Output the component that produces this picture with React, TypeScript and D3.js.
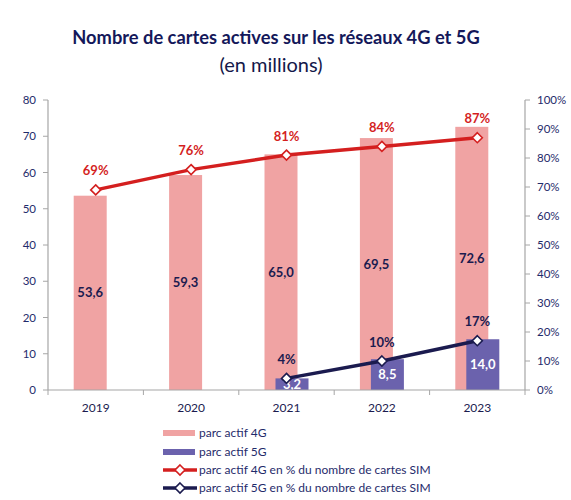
import * as d3 from 'd3';

// Chart data
const years = ['2019', '2020', '2021', '2022', '2023'];
const parc4G = [53.6, 59.3, 65.0, 69.5, 72.6];
const parc5G: (number | null)[] = [null, null, 3.2, 8.5, 14.0];
const pct4G = [69, 76, 81, 84, 87];
const pct5G: (number | null)[] = [null, null, 4, 10, 17];
const leftTicks = [0, 10, 20, 30, 40, 50, 60, 70, 80];
const rightTicks = [0, 10, 20, 30, 40, 50, 60, 70, 80, 90, 100];

const W = 571;
const H = 500;
const FONT = 'Lato, "Noto Sans", sans-serif';
const NAVY = '#1f2b6b';
const PINK = '#f0a3a3';
const BLUE = '#6b62ad';
const RED = '#d41f1f';
const DARK = '#1b1b4f';

const fmt = (v: number) => v.toFixed(1).replace('.', ',');

function Diamond({ x, y, stroke }: { x: number; y: number; stroke: string }) {
  const r = 5;
  return (
    <path
      d={`M${x},${y - r}L${x + r},${y}L${x},${y + r}L${x - r},${y}Z`}
      fill="#fff"
      stroke={stroke}
      strokeWidth={1.6}
    />
  );
}

export default function App() {
  const left = 48;
  const right = 525;
  const top = 100;
  const bottom = 390;

  const x = d3.scaleBand().domain(years).range([left, right]).padding(0);
  const yL = d3.scaleLinear().domain([0, 80]).range([bottom, top]);
  const yR = d3.scaleLinear().domain([0, 100]).range([bottom, top]);
  const barW = 33;
  const off = 5.5;
  const cx = (yr: string) => (x(yr) || 0) + x.bandwidth() / 2;

  const line4G = d3
    .line<number>()
    .x((_, i) => cx(years[i]))
    .y((d) => yR(d));
  const pts5G = years
    .map((yr, i) => ({ yr, v: pct5G[i] }))
    .filter((d) => d.v != null) as { yr: string; v: number }[];
  const line5G = d3
    .line<{ yr: string; v: number }>()
    .x((d) => cx(d.yr))
    .y((d) => yR(d.v));

  return (
    <svg
      width={W}
      height={H}
      style={{ position: 'absolute', left: 0, top: 0, background: '#fff' }}
      fontFamily={FONT}
    >
      <defs>
        <clipPath id="plot">
          <rect x={left} y={top - 40} width={right - left} height={bottom - top + 40} />
        </clipPath>
      </defs>

      {/* Titles */}
      <text x={276} y={44} textAnchor="middle" fontSize={18.3} fontWeight="bold" fill="#14185a">
        Nombre de cartes actives sur les réseaux 4G et 5G
      </text>
      <text x={271} y={72} textAnchor="middle" fontSize={20} fill="#14184a">
        (en millions)
      </text>

      {/* Bars 4G */}
      {years.map((yr, i) => (
        <rect
          key={'b4' + yr}
          x={cx(yr) - off - barW / 2}
          y={yL(parc4G[i])}
          width={barW}
          height={bottom - yL(parc4G[i])}
          fill={PINK}
        />
      ))}
      {/* Bars 5G */}
      {years.map((yr, i) =>
        parc5G[i] == null ? null : (
          <rect
            key={'b5' + yr}
            x={cx(yr) + off - barW / 2}
            y={yL(parc5G[i] as number)}
            width={barW}
            height={bottom - yL(parc5G[i] as number)}
            fill={BLUE}
          />
        )
      )}

      {/* Bar labels */}
      {years.map((yr, i) => (
        <text
          key={'l4' + yr}
          x={cx(yr) - off}
          y={yL(parc4G[i] / 2)}
          dy="0.35em"
          textAnchor="middle"
          fontSize={13}
          fontWeight="bold"
          fill={DARK}
        >
          {fmt(parc4G[i])}
        </text>
      ))}
      <g clipPath="url(#plot)">
        {years.map((yr, i) =>
          parc5G[i] == null ? null : (
            <text
              key={'l5' + yr}
              x={cx(yr) + off}
              y={yL((parc5G[i] as number) / 2)}
              dy="0.35em"
              textAnchor="middle"
              fontSize={13}
              fontWeight="bold"
              fill="#fff"
            >
              {fmt(parc5G[i] as number)}
            </text>
          )
        )}
      </g>

      {/* Axes */}
      <line x1={left} x2={left} y1={top} y2={bottom} stroke="#a6a6a6" strokeWidth={1.2} />
      <line x1={right} x2={right} y1={top} y2={bottom} stroke="#a6a6a6" strokeWidth={1.2} />
      <line x1={left} x2={right} y1={bottom} y2={bottom} stroke="#a6a6a6" strokeWidth={1.2} />
      {leftTicks.map((t) => (
        <g key={'lt' + t}>
          <line x1={left - 5} x2={left} y1={yL(t)} y2={yL(t)} stroke="#a6a6a6" />
          <text x={36} y={yL(t)} dy="0.35em" textAnchor="end" fontSize={11.5} fill={NAVY}>
            {t}
          </text>
        </g>
      ))}
      {rightTicks.map((t) => (
        <g key={'rt' + t}>
          <line x1={right} x2={right + 5} y1={yR(t)} y2={yR(t)} stroke="#a6a6a6" />
          <text x={537} y={yR(t)} dy="0.35em" textAnchor="start" fontSize={11.5} fill={NAVY}>
            {t}%
          </text>
        </g>
      ))}
      {d3.range(years.length + 1).map((i) => (
        <line
          key={'xt' + i}
          x1={left + i * x.step()}
          x2={left + i * x.step()}
          y1={bottom}
          y2={bottom + 5}
          stroke="#a6a6a6"
        />
      ))}
      {years.map((yr) => (
        <text
          key={'xl' + yr}
          x={cx(yr)}
          y={412}
          textAnchor="middle"
          fontSize={12}
          fill={DARK}
        >
          {yr}
        </text>
      ))}

      {/* Lines */}
      <path d={line4G(pct4G) || ''} fill="none" stroke={RED} strokeWidth={3.5} />
      {pct4G.map((v, i) => (
        <g key={'p4' + i}>
          <Diamond x={cx(years[i])} y={yR(v)} stroke={RED} />
          <text
            x={cx(years[i])}
            y={yR(v) - 19}
            dy="0.35em"
            textAnchor="middle"
            fontSize={13}
            fontWeight="bold"
            fill={RED}
          >
            {v}%
          </text>
        </g>
      ))}
      <path d={line5G(pts5G) || ''} fill="none" stroke={DARK} strokeWidth={3.5} />
      {pts5G.map((d) => (
        <g key={'p5' + d.yr}>
          <Diamond x={cx(d.yr)} y={yR(d.v)} stroke={DARK} />
          <text
            x={cx(d.yr)}
            y={yR(d.v) - 19}
            dy="0.35em"
            textAnchor="middle"
            fontSize={13}
            fontWeight="bold"
            fill={DARK}
          >
            {d.v}%
          </text>
        </g>
      ))}

      {/* Legend */}
      <g fontSize={12} fill={NAVY}>
        <rect x={163} y={430} width={32} height={6} fill={PINK} />
        <text x={199} y={433} dy="0.35em">parc actif 4G</text>
        <rect x={163} y={449} width={32} height={6} fill={BLUE} />
        <text x={199} y={452} dy="0.35em">parc actif 5G</text>
        <line x1={163} x2={197} y1={470} y2={470} stroke={RED} strokeWidth={3.5} />
        <Diamond x={180} y={470} stroke={RED} />
        <text x={199} y={470} dy="0.35em">parc actif 4G en % du nombre de cartes SIM</text>
        <line x1={163} x2={197} y1={488} y2={488} stroke={DARK} strokeWidth={3.5} />
        <Diamond x={180} y={488} stroke={DARK} />
        <text x={199} y={488} dy="0.35em">parc actif 5G en % du nombre de cartes SIM</text>
      </g>
    </svg>
  );
}
